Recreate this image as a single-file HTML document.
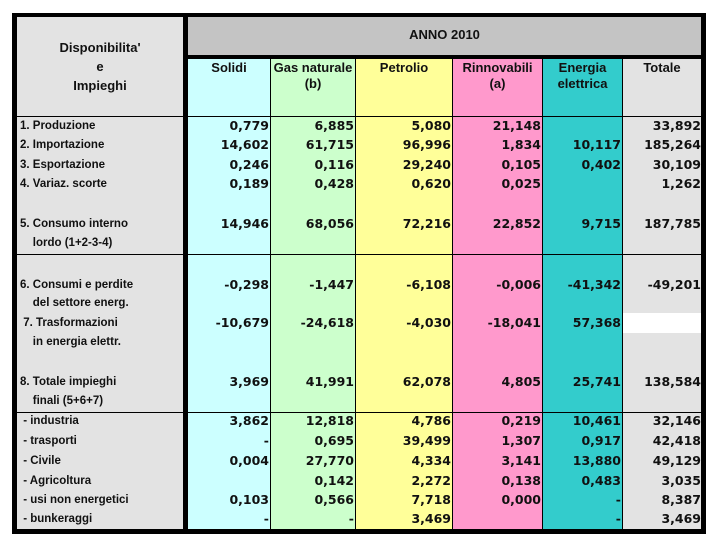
<!DOCTYPE html>
<html><head><meta charset="utf-8"><style>
body{margin:0;width:706px;height:550px;background:#fff;position:relative;overflow:hidden}
div{position:absolute;box-sizing:border-box}
.l{font:bold 11.5px "Liberation Sans",sans-serif;color:#111;line-height:14px;white-space:nowrap}
.n{font:bold 12.5px "DejaVu Sans",sans-serif;color:#111;line-height:14px;text-align:right;white-space:nowrap}
.h{font:bold 13px "Liberation Sans",sans-serif;color:#111;text-align:center;line-height:16px}
</style></head><body>
<div style="left:12px;top:13px;width:694px;height:521px;background:#000"></div>
<div style="left:17px;top:17px;width:166px;height:512px;background:#e3e3e3"></div>
<div style="left:188px;top:17px;width:513px;height:38px;background:#c4c4c4"></div>
<div style="left:188px;top:59px;width:82px;height:470px;background:#ccffff"></div>
<div style="left:271px;top:59px;width:84px;height:470px;background:#ccffcc"></div>
<div style="left:356px;top:59px;width:96px;height:470px;background:#ffff99"></div>
<div style="left:453px;top:59px;width:89px;height:470px;background:#ff99cc"></div>
<div style="left:543px;top:59px;width:79px;height:470px;background:#33cccc"></div>
<div style="left:623px;top:59px;width:78px;height:470px;background:#e3e3e3"></div>
<div style="left:623px;top:313px;width:78px;height:20px;background:#fff"></div>
<div style="left:17px;top:116px;width:684px;height:1px;background:#000"></div>
<div style="left:17px;top:254px;width:684px;height:1px;background:#000"></div>
<div style="left:17px;top:412px;width:684px;height:1px;background:#000"></div>
<div class="h" style="left:17px;top:38px;width:166px;line-height:19px">Disponibilita'<br>e<br>Impieghi</div>
<div class="h" style="left:188px;top:27px;width:513px">ANNO 2010</div>
<div class="h" style="left:188px;top:60px;width:82px">Solidi</div>
<div class="h" style="left:271px;top:60px;width:84px">Gas naturale<br>(b)</div>
<div class="h" style="left:356px;top:60px;width:96px">Petrolio</div>
<div class="h" style="left:453px;top:60px;width:89px">Rinnovabili<br>(a)</div>
<div class="h" style="left:543px;top:60px;width:79px">Energia<br>elettrica</div>
<div class="h" style="left:623px;top:60px;width:78px">Totale</div>
<div id="t"></div>
<script>
var R=[[126,"1. Produzione",["0,779","6,885","5,080","21,148","","33,892"]],
[145,"2. Importazione",["14,602","61,715","96,996","1,834","10,117","185,264"]],
[165,"3. Esportazione",["0,246","0,116","29,240","0,105","0,402","30,109"]],
[184,"4. Variaz. scorte",["0,189","0,428","0,620","0,025","","1,262"]],
[224,"5. Consumo interno",["14,946","68,056","72,216","22,852","9,715","187,785"]],
[243,"&nbsp;&nbsp;&nbsp;&nbsp;lordo (1+2-3-4)",null],
[285,"6. Consumi e perdite",["-0,298","-1,447","-6,108","-0,006","-41,342","-49,201"]],
[303,"&nbsp;&nbsp;&nbsp;&nbsp;del settore energ.",null],
[323,"&nbsp;7. Trasformazioni",["-10,679","-24,618","-4,030","-18,041","57,368",""]],
[342,"&nbsp;&nbsp;&nbsp;&nbsp;in energia elettr.",null],
[382,"8. Totale impieghi",["3,969","41,991","62,078","4,805","25,741","138,584"]],
[401,"&nbsp;&nbsp;&nbsp;&nbsp;finali (5+6+7)",null],
[421,"&nbsp;- industria",["3,862","12,818","4,786","0,219","10,461","32,146"]],
[441,"&nbsp;- trasporti",["-","0,695","39,499","1,307","0,917","42,418"]],
[461,"&nbsp;- Civile",["0,004","27,770","4,334","3,141","13,880","49,129"]],
[481,"&nbsp;- Agricoltura",["","0,142","2,272","0,138","0,483","3,035"]],
[500,"&nbsp;- usi non energetici",["0,103","0,566","7,718","0,000","-","8,387"]],
[519,"&nbsp;- bunkeraggi",["-","-","3,469","","-","3,469"]]];
var E=[269,354,451,541,621,701],h="";
R.forEach(function(r){var y=r[0]-7;h+='<div class="l" style="left:20px;top:'+y+'px">'+r[1]+'</div>';
if(r[2])r[2].forEach(function(v,i){h+='<div class="n" style="left:'+(E[i]-100)+'px;width:100px;top:'+y+'px">'+v+'</div>';});});
document.getElementById('t').outerHTML=h;
</script>
</body></html>
